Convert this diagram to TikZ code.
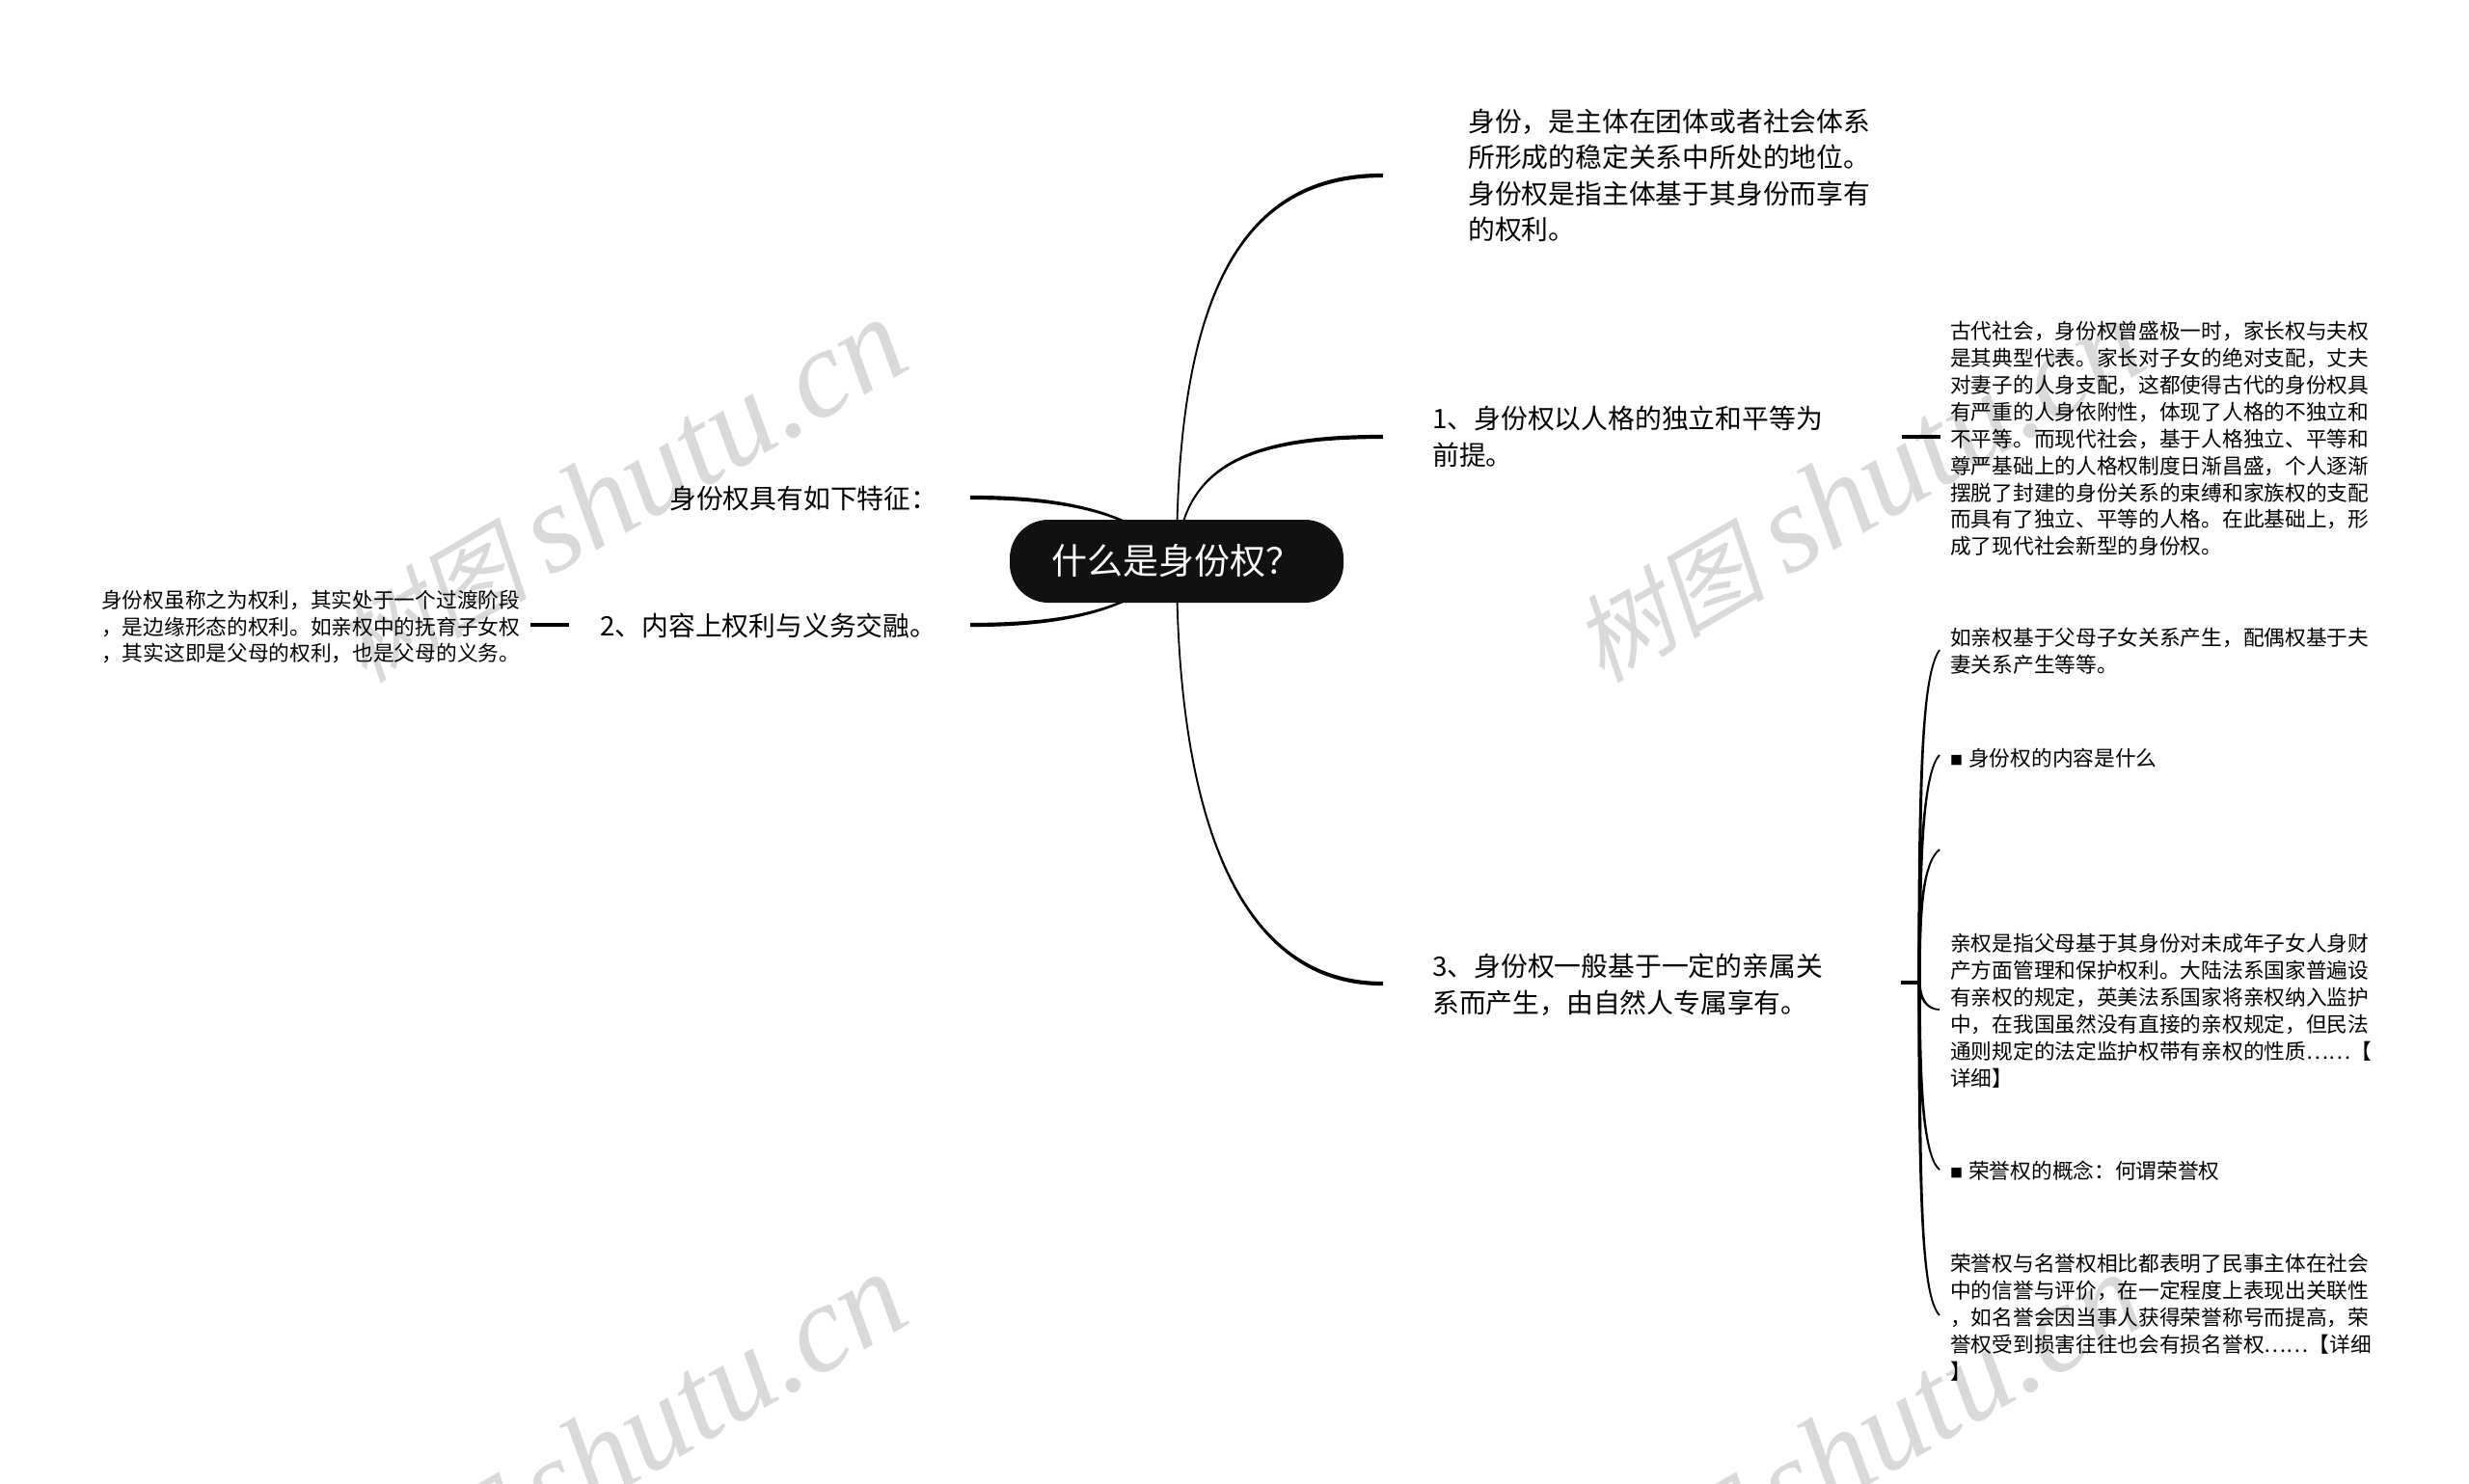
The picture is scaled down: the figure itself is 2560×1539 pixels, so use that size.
\documentclass[tikz,border=0pt]{standalone}
\usepackage{fontspec}
\setmainfont{Noto Sans CJK SC}
\newfontfamily\marklatin{Liberation Serif}
\newfontfamily\markcjk[FakeSlant=0.2]{Noto Sans CJK SC}
\usetikzlibrary{positioning}
\definecolor{rootblack}{HTML}{111111}

\newcommand{\branch}[6]{%
  \filldraw [line width=1.8pt] (#1) .. controls (#2) and ([#5=-#6]#3) .. ([#5=-#6]#4) -- ([#5=#6]#4)
    .. controls ([#5=#6]#3) and (#2) .. (#1) -- cycle;}

\tikzset{
  watermark/.style = {text=black!15, rotate=30, anchor=base west, inner sep=0pt},
  topic/.style = {anchor=west, align=left, inner sep=0pt, font=\fontsize{27.8}{37.5}\selectfont},
  detail/.style = {anchor=west, align=left, inner sep=0pt, font=\fontsize{21.7}{27.9}\selectfont},
  rootbox/.style = {fill=rootblack, text=white, rounded corners=40pt, minimum width=346pt,
    minimum height=86pt, inner sep=0pt, font=\fontsize{37}{37}\selectfont},
  stub/.style = {line width=4pt}
}
\newcommand{\sqbullet}{\makebox[19pt][l]{\raisebox{1pt}{\fontsize{13}{13}\selectfont ■}}}
\newcommand{\markname}{{\fontsize{100}{100}\markcjk 树图}\hspace{22pt}{\fontsize{130}{130}\marklatin\itshape shutu.cn}}

\begin{document}
\begin{tikzpicture}[x=1pt, y=-1pt]
    \useasboundingbox (0,0) rectangle (2560,1539);
    % watermarks
    \node [watermark] (markA) at (378,710) {\markname};
    \node [watermark] (markB) at (1661,710) {\markname};
    \node [watermark] (markC) at (378,1700) {\markname};
    \node [watermark] (markD) at (1661,1700) {\markname};

    \coordinate (rootpos) at (1220,582);
    \coordinate (defEnd) at (1433,182);
    \coordinate (oneEnd) at (1433,453);
    \coordinate (threeEnd) at (1433,1020);
    \coordinate (featEnd) at (1007,516);
    \coordinate (twoEnd) at (1007,648);
    \coordinate (trunk) at (1990,1019);

    % right side text
    \node at (1522,182) [topic] (def) {身份，是主体在团体或者社会体系\\所形成的稳定关系中所处的地位。\\身份权是指主体基于其身份而享有\\的权利。};
    \node at (1485,453) [topic] (one) {1、身份权以人格的独立和平等为\\前提。};
    \node at (1485,1021) [topic] (three) {3、身份权一般基于一定的亲属关\\系而产生，由自然人专属享有。};
    \node at (2022,455) [detail] (oneDetail) {古代社会，身份权曾盛极一时，家长权与夫权\\是其典型代表。家长对子女的绝对支配，丈夫\\对妻子的人身支配，这都使得古代的身份权具\\有严重的人身依附性，体现了人格的不独立和\\不平等。而现代社会，基于人格独立、平等和\\尊严基础上的人格权制度日渐昌盛，个人逐渐\\摆脱了封建的身份关系的束缚和家族权的支配\\而具有了独立、平等的人格。在此基础上，形\\成了现代社会新型的身份权。};
    \node at (2022,675) [detail] (threeA) {如亲权基于父母子女关系产生，配偶权基于夫\\妻关系产生等等。};
    \node at (2022,786) [detail] (threeB) {\sqbullet 身份权的内容是什么};
    \node at (2022,1048) [detail] (threeC) {亲权是指父母基于其身份对未成年子女人身财\\产方面管理和保护权利。大陆法系国家普遍设\\有亲权的规定，英美法系国家将亲权纳入监护\\中，在我国虽然没有直接的亲权规定，但民法\\通则规定的法定监护权带有亲权的性质……【\\详细】};
    \node at (2022,1214) [detail] (threeD) {\sqbullet 荣誉权的概念：何谓荣誉权};
    \node at (2022,1366) [detail] (threeE) {荣誉权与名誉权相比都表明了民事主体在社会\\中的信誉与评价，在一定程度上表现出关联性\\，如名誉会因当事人获得荣誉称号而提高，荣\\誉权受到损害往往也会有损名誉权……【详细\\】};

    % left side text
    \node at (694,517) [topic] (feat) {身份权具有如下特征：};
    \node at (622,649) [topic] (two) {2、内容上权利与义务交融。};
    \node at (105,650) [detail] (twoDetail) {身份权虽称之为权利，其实处于一个过渡阶段\\，是边缘形态的权利。如亲权中的抚育子女权\\，其实这即是父母的权利，也是父母的义务。};

    % main branches, the root box covers their ends
    \branch{rootpos}{1220,300}{1290,182}{defEnd}{yshift}{1.2pt}
    \branch{rootpos}{1225,480}{1300,453}{oneEnd}{yshift}{1.2pt}
    \branch{rootpos}{1220,860}{1290,1020}{threeEnd}{yshift}{1.2pt}
    \branch{rootpos}{1180,530}{1100,516}{featEnd}{yshift}{1.2pt}
    \branch{rootpos}{1180,634}{1100,648}{twoEnd}{yshift}{1.2pt}

    \node at (rootpos) [rootbox] (root) {什么是身份权？};

    % short stubs to the details
    \draw [stub] (1972,453) -- (2012,453);
    \draw [stub] (550,648) -- (590,648);
    \draw [stub] (1971,1019) -- (trunk);

    % bracket of the third topic
    \coordinate (tipA) at (2011,674);
    \coordinate (tipB) at (2011,783);
    \coordinate (tipC) at (2011,881);
    \coordinate (tipD) at (2011,1047);
    \coordinate (tipE) at (2011,1213);
    \coordinate (tipF) at (2011,1364);
    \branch{tipA}{1993,700}{1990,800}{trunk}{xshift}{0.8pt}
    \branch{tipB}{1995,800}{1990,880}{trunk}{xshift}{0.8pt}
    \branch{tipC}{1993,895}{1990,950}{trunk}{xshift}{0.8pt}
    \branch{tipD}{1998,1047}{1990,1035}{trunk}{xshift}{0.8pt}
    \branch{tipE}{1995,1200}{1990,1130}{trunk}{xshift}{0.8pt}
    \branch{tipF}{1993,1345}{1990,1250}{trunk}{xshift}{0.8pt}
\end{tikzpicture}
\end{document}
